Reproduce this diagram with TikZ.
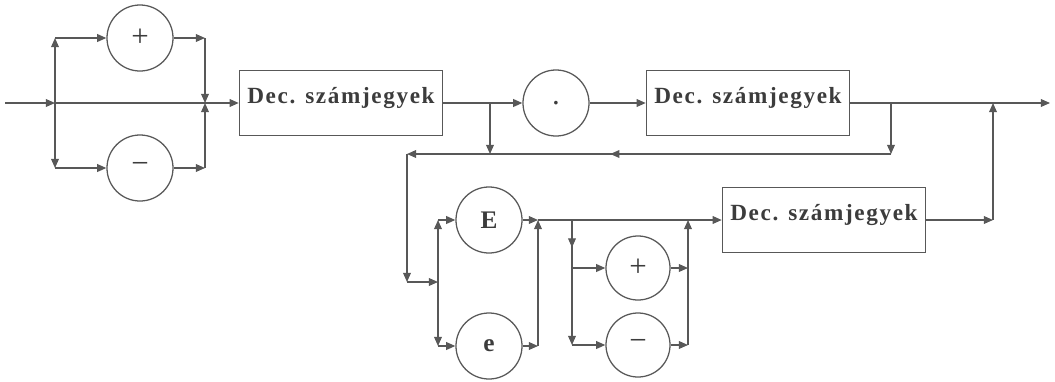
\documentclass[tikz,border=0pt]{standalone}
\usepackage{fontspec}
\setmainfont{Liberation Serif}
\newfontfamily\boxfont[LetterSpace=7]{Liberation Serif}
\usetikzlibrary{arrows.meta,decorations.markings}
\definecolor{lineclr}{RGB}{88,88,88}
\definecolor{textclr}{RGB}{60,60,60}

\begin{document}
\begin{tikzpicture}[x=0.025cm,y=-0.025cm, line width=0.9pt, color=lineclr,
    ar/.style={-{Triangle[length=6.5pt,width=5.5pt]}},
    midarr/.style={postaction={decorate,decoration={markings,
        mark=at position #1 with {\arrow{Triangle[length=6.5pt,width=5.5pt]}}}}},
    jelbox/.style={draw, text=textclr, minimum width=5.08cm, minimum height=1.63cm,
        inner sep=0pt, text height=11pt, text depth=11pt,
        font=\boxfont\fontsize{16.5}{20}\selectfont\bfseries},
    kor/.style={draw, circle, text=textclr, minimum size=1.65cm, inner sep=0pt,
        font=\fontsize{22}{24}\selectfont},
    betu/.style={kor, font=\fontsize{18}{20}\selectfont\bfseries}]
    \useasboundingbox (0,0) rectangle (1055,382);

    % sign of the number
    \coordinate (start) at (5,103);
    \coordinate (split1) at (55,103);
    \coordinate (up1) at (55,38);
    \coordinate (down1) at (55,168);
    \node[kor] (plus1) at (140,38) {+};
    \node[kor] (minus1) at (140,168) {−};
    \coordinate (upr1) at (205,38);
    \coordinate (downr1) at (205,168);
    \coordinate (join1) at (205,103);
    \node[jelbox] (digits1) at (341,103) {Dec. számjegyek};

    \draw[ar] (start) -- (split1);
    \draw[ar] (split1) -- (up1);
    \draw[ar] (up1) -- (plus1);
    \draw[ar] (split1) -- (down1);
    \draw[ar] (down1) -- (minus1);
    \draw[ar] (plus1) -- (upr1);
    \draw[ar] (upr1) -- (join1);
    \draw[ar] (minus1) -- (downr1);
    \draw[ar] (downr1) -- (join1);
    \draw[ar] (split1) -- (digits1);

    % fraction part
    \coordinate (split2) at (490,103);
    \coordinate (back2) at (490,154);
    \node[kor] (dot) at (556,103) {.};
    \node[jelbox] (digits2) at (748,103) {Dec. számjegyek};
    \coordinate (split3) at (891,103);
    \coordinate (back3) at (891,154);
    \coordinate (join3) at (993,103);
    \coordinate (finish) at (1050,103);

    \draw[ar] (digits1) -- (dot);
    \draw[ar] (split2) -- (back2);
    \draw[ar] (dot) -- (digits2);
    \draw[ar] (digits2) -- (finish);
    \draw[ar] (split3) -- (back3);

    % back to the exponent
    \coordinate (corner1) at (407,154);
    \coordinate (corner2) at (407,282);
    \coordinate (split4) at (438,282);
    \draw[ar, midarr=0.58] (back3) -- (corner1);
    \draw[ar] (corner1) -- (corner2);
    \draw[ar] (corner2) -- (split4);

    % E or e
    \coordinate (upE) at (438,220);
    \coordinate (downE) at (438,346);
    \node[betu] (bigE) at (489,220) {E};
    \node[betu] (smallE) at (489,346) {e};
    \coordinate (joinE1) at (538,220);
    \coordinate (joinE2) at (538,346);

    \draw[ar] (split4) -- (upE);
    \draw[ar] (upE) -- (bigE);
    \draw[ar] (split4) -- (downE);
    \draw[ar] (downE) -- (smallE);
    \draw[ar] (bigE) -- (joinE1);
    \draw[ar] (smallE) -- (joinE2);
    \draw[ar] (joinE2) -- (joinE1);

    % sign of the exponent
    \coordinate (split5) at (572,220);
    \coordinate (sgnp) at (572,268);
    \coordinate (sgnm) at (572,345);
    \node[kor, minimum size=1.6cm] (plus2) at (638,268) {+};
    \node[kor, minimum size=1.6cm] (minus2) at (638,345) {−};
    \coordinate (rp) at (688,268);
    \coordinate (rm) at (688,345);
    \coordinate (join5) at (688,220);
    \node[jelbox] (digits3) at (824,220) {Dec. számjegyek};

    \draw[ar] (joinE1) -- (digits3);
    \draw[ar, midarr=0.22] (split5) -- (sgnm);
    \draw[ar] (sgnp) -- (plus2);
    \draw[ar] (sgnm) -- (minus2);
    \draw[ar] (plus2) -- (rp);
    \draw[ar] (minus2) -- (rm);
    \draw[ar] (rm) -- (join5);

    % output
    \coordinate (join6) at (993,220);
    \draw[ar] (digits3) -- (join6);
    \draw[ar] (join6) -- (join3);
\end{tikzpicture}
\end{document}
